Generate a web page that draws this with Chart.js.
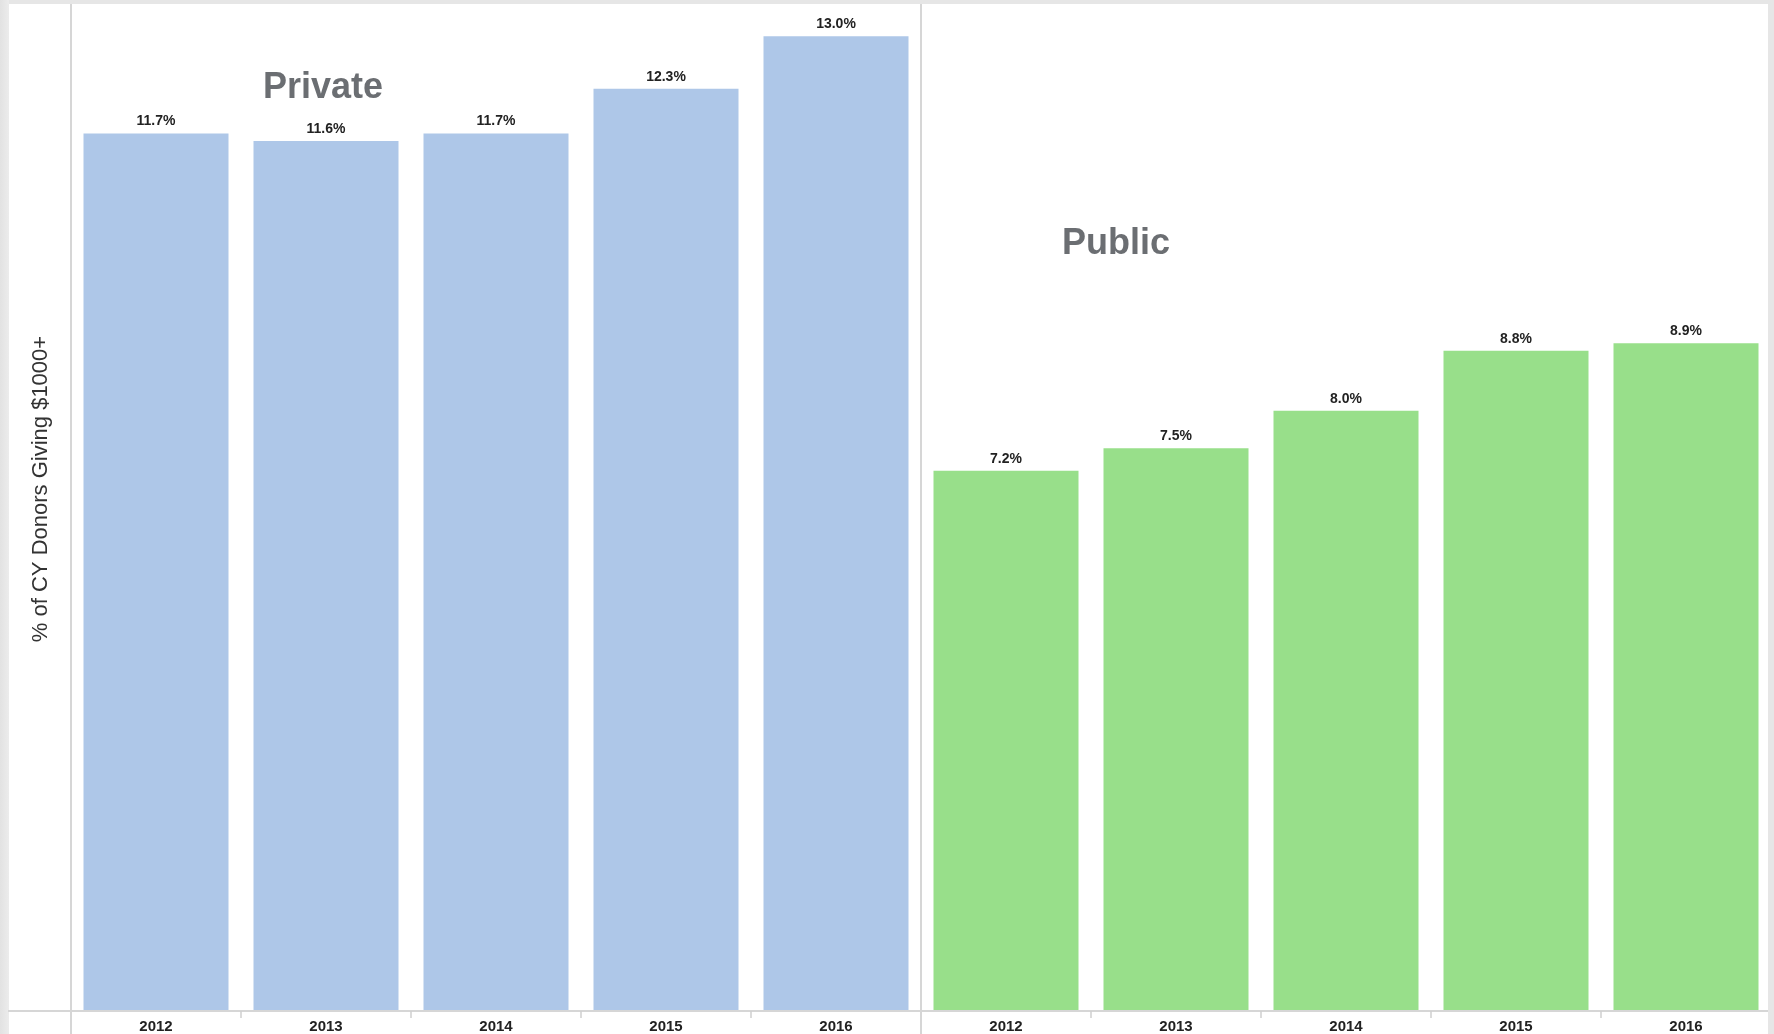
<!DOCTYPE html>
<html>
<head>
<meta charset="utf-8">
<script src="https://cdn.jsdelivr.net/npm/chart.js@4/dist/chart.umd.min.js"></script>
<style>
  html, body { margin: 0; padding: 0; background: #e6e6e6; }
  canvas { display: block; }
</style>
</head>
<body>
<canvas id="donorChart" width="1774" height="1034"></canvas>
<script>
const years = ["2012", "2013", "2014", "2015", "2016"];
const privateValues = [11.7, 11.6, 11.7, 12.3, 13.0];
const publicValues = [7.2, 7.5, 8.0, 8.8, 8.9];
const groupNames = ["Private", "Public"];
const yTitle = "% of CY Donors Giving $1000+";

const privateColor = "#aec7e8";
const publicColor = "#98df8a";

const labels = years.concat(years);
const values = privateValues.concat(publicValues);
const colors = privateValues.map(() => privateColor).concat(publicValues.map(() => publicColor));

// white panel, pane lines, baseline and tick marks
const panelPlugin = {
  id: "panel",
  beforeDraw(chart) {
    const c = chart.ctx;
    c.save();
    const grad = c.createLinearGradient(0, 0, 9, 0);
    grad.addColorStop(0, "#e2e2e2");
    grad.addColorStop(1, "#ececec");
    c.fillStyle = grad;
    c.fillRect(0, 0, 9, chart.height);
    c.fillStyle = "#ffffff";
    c.fillRect(9, 4, 1768 - 9, chart.height - 4);
    c.restore();
  },
  afterDatasetsDraw(chart) {
    const c = chart.ctx;
    const area = chart.chartArea;
    const x = chart.scales.x;
    c.save();
    c.strokeStyle = "#d6d6d6";
    c.lineWidth = 2;
    // left axis line and divider between the two panes
    const split = (x.getPixelForValue(4) + x.getPixelForValue(5)) / 2;
    [area.left, split].forEach(px => {
      c.beginPath();
      c.moveTo(Math.round(px), 4);
      c.lineTo(Math.round(px), chart.height);
      c.stroke();
    });
    // baseline
    c.beginPath();
    c.moveTo(8, area.bottom + 1);
    c.lineTo(1768, area.bottom + 1);
    c.stroke();
    // tick marks between categories
    c.lineWidth = 1.5;
    c.strokeStyle = "#cfcfcf";
    for (let i = 0; i < values.length - 1; i++) {
      if (i === 4) continue;
      const px = Math.round((x.getPixelForValue(i) + x.getPixelForValue(i + 1)) / 2);
      c.beginPath();
      c.moveTo(px, area.bottom + 1);
      c.lineTo(px, area.bottom + 8);
      c.stroke();
    }
    c.restore();
  }
};

// value labels above bars, pane titles, axis title
const labelPlugin = {
  id: "labels",
  afterDraw(chart) {
    const c = chart.ctx;
    const meta = chart.getDatasetMeta(0);
    c.save();
    c.fillStyle = "#222222";
    c.font = "bold 14px 'Liberation Sans', Arial, sans-serif";
    c.textAlign = "center";
    c.textBaseline = "bottom";
    meta.data.forEach((bar, i) => {
      c.fillText(values[i].toFixed(1) + "%", bar.x, bar.y - 5);
    });

    c.fillStyle = "#6b6e72";
    c.font = "bold 36px 'Liberation Sans', Arial, sans-serif";
    c.textBaseline = "middle";
    c.fillText(groupNames[0], 323, 88);
    c.fillText(groupNames[1], 1116, 244);

    c.translate(41, 489);
    c.rotate(-Math.PI / 2);
    c.fillStyle = "#333333";
    c.font = "22px 'Liberation Sans', Arial, sans-serif";
    c.fillText(yTitle, 0, 0);
    c.restore();
  }
};

new Chart(document.getElementById("donorChart"), {
  type: "bar",
  data: {
    labels: labels,
    datasets: [{
      data: values,
      backgroundColor: colors,
      borderWidth: 0,
      barPercentage: 0.853,
      categoryPercentage: 1.0
    }]
  },
  options: {
    responsive: false,
    animation: false,
    layout: { padding: { left: 71, right: 3, top: 4, bottom: 0 } },
    plugins: {
      legend: { display: false },
      tooltip: { enabled: false }
    },
    scales: {
      x: {
        offset: true,
        grid: { display: false, drawTicks: false },
        border: { display: false },
        ticks: {
          color: "#222222",
          font: { family: "'Liberation Sans', Arial, sans-serif", size: 15, weight: "bold" },
          padding: 8,
          maxRotation: 0,
          autoSkip: false
        },
        afterFit(scale) {
          scale.height = 24;
        }
      },
      y: {
        display: false,
        min: 0,
        max: 13.43
      }
    }
  },
  plugins: [panelPlugin, labelPlugin]
});
</script>
</body>
</html>
